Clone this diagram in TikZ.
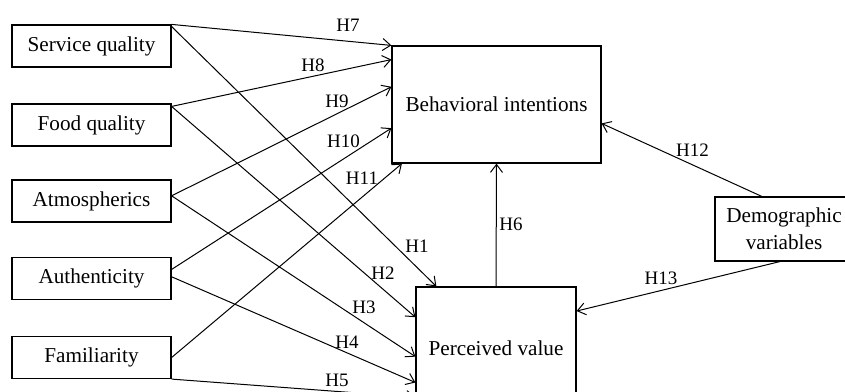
\documentclass[tikz,border=0pt]{standalone}
\usepackage{fontspec}
\setmainfont{Liberation Serif}
\usetikzlibrary{arrows.meta,calc}
\tikzset{
	box/.style={draw, line width=0.6pt, inner sep=0pt, font=\fontsize{10.6}{13.5}\selectfont},
	hyp/.style={inner sep=0pt, font=\fontsize{9.5}{11}\selectfont},
	link/.style={line width=0.5pt, -{Straight Barb[length=4pt,width=6pt]}}
}
\begin{document}
\begin{tikzpicture}[x=0.5pt, y=-0.5pt]
	% page frame
	\useasboundingbox (0,0) rectangle (845,391);
	\clip (0,0) rectangle (845,391);
	% antecedents
	\foreach \name/\text/\y in {sq/Service quality/46, fq/Food quality/125, atm/Atmospherics/201, auth/Authenticity/278.5, fam/Familiarity/357.5}
	{
		\node[box, minimum width=79.5pt, minimum height=21pt] (\name) at (91.5,\y) {\text};
	}
	% outcomes
	\node[box, minimum width=104.5pt, minimum height=58.5pt] (bi) at (496.5,104.5) {Behavioral intentions};
	\node[box, minimum width=80pt, minimum height=61pt] (pv) at (496,348) {Perceived value};
	\node[box, minimum width=69pt, minimum height=32pt, align=center] (dv) at (784,229) {Demographic\\variables};
	% paths to behavioral intentions
	\draw[link] (sq.north east) -- (bi.north west);
	\draw[link] ($(fq.north east)!0.07!(fq.south east)$) -- ($(bi.north west)!0.12!(bi.south west)$);
	\draw[link] ($(atm.north east)!0.38!(atm.south east)$) -- ($(bi.north west)!0.35!(bi.south west)$);
	\draw[link] ($(auth.north east)!0.29!(auth.south east)$) -- ($(bi.north west)!0.70!(bi.south west)$);
	\draw[link] (fam.east) -- ($(bi.south west)!0.05!(bi.south east)$);
	% paths to perceived value
	\draw[link] ($(sq.north east)!0.05!(sq.south east)$) -- ($(pv.north west)!0.13!(pv.north east)$);
	\draw[link] ($(fq.north east)!0.07!(fq.south east)$) -- ($(pv.north west)!0.25!(pv.south west)$);
	\draw[link] ($(atm.north east)!0.38!(atm.south east)$) -- ($(pv.north west)!0.57!(pv.south west)$);
	\draw[link] ($(auth.north east)!0.46!(auth.south east)$) -- ($(pv.north west)!0.78!(pv.south west)$);
	\draw[link] (fam.south east) -- ($(pv.north west)!0.90!(pv.south west)$);
	% mediation and control
	\draw[link] (pv.north) -- (bi.south);
	\draw[link] ($(dv.north west)!0.34!(dv.north east)$) -- ($(bi.north east)!0.66!(bi.south east)$);
	\draw[link] ($(dv.south west)!0.47!(dv.south east)$) -- ($(pv.north east)!0.20!(pv.south east)$);
	% hypothesis labels
	\foreach \lab/\x/\y in {H7/348/25, H8/313/65, H9/337/101, H10/343.5/141.5, H11/362/178, H1/417/246, H2/383/273, H3/364/307.5, H4/347/342, H5/337/380, H6/511/224, H12/692.5/150, H13/661/278}
	{
		\node[hyp] (\lab) at (\x,\y) {\lab};
	}
\end{tikzpicture}
\end{document}
